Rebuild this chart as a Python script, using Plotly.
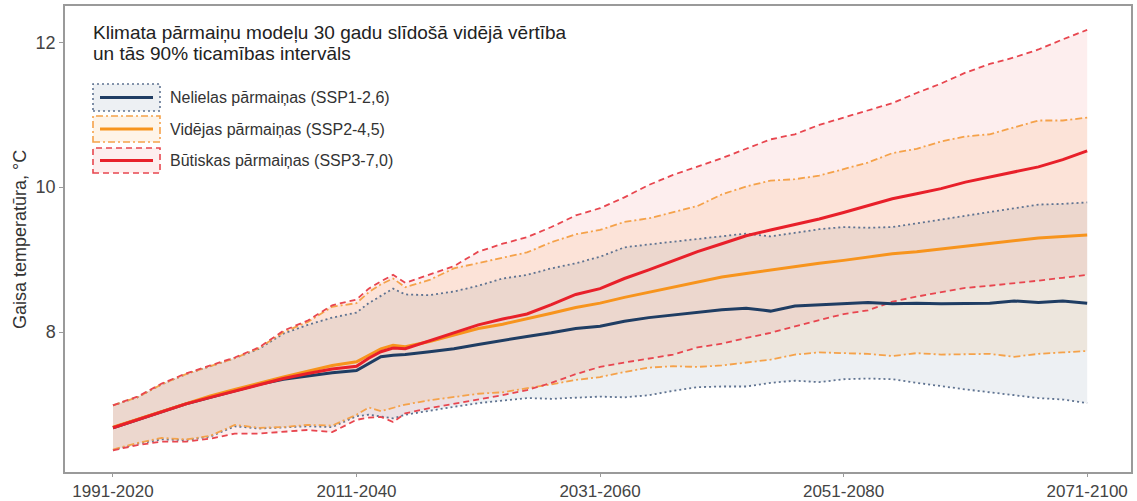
import plotly.graph_objects as go

# ---------------- data ----------------
years = [1991, 1993, 1995, 1997, 1999, 2001, 2003, 2005, 2007, 2009, 2011, 2012, 2013, 2014, 2015,
         2017, 2019, 2021, 2023, 2025, 2027, 2029, 2031, 2033, 2035, 2037, 2039, 2041, 2043, 2045,
         2047, 2049, 2051, 2053, 2055, 2057, 2059, 2061, 2063, 2065, 2067, 2069, 2071]

tick_years = [1991, 2011, 2031, 2051, 2071]
tick_labels = ["1991-2020", "2011-2040", "2031-2060", "2051-2080", "2071-2100"]

ssp126_mean = [6.68, 6.79, 6.90, 7.01, 7.10, 7.19, 7.28, 7.35, 7.40, 7.44, 7.47, 7.56, 7.66, 7.68, 7.69,
               7.73, 7.77, 7.83, 7.89, 7.94, 7.99, 8.05, 8.08, 8.15, 8.20, 8.24, 8.28, 8.31, 8.33, 8.29,
               8.36, 8.38, 8.40, 8.41, 8.39, 8.40, 8.39, 8.40, 8.40, 8.43, 8.41, 8.43, 8.40]
ssp126_low = [6.37, 6.46, 6.52, 6.51, 6.56, 6.70, 6.67, 6.68, 6.70, 6.69, 6.84, 6.86, 6.83, 6.81, 6.86,
              6.92, 6.97, 7.02, 7.06, 7.09, 7.08, 7.09, 7.11, 7.10, 7.13, 7.19, 7.24, 7.25, 7.25, 7.30,
              7.33, 7.31, 7.35, 7.36, 7.35, 7.30, 7.25, 7.21, 7.17, 7.13, 7.09, 7.07, 7.02]
ssp126_high = [6.99, 7.10, 7.28, 7.42, 7.53, 7.64, 7.77, 7.98, 8.10, 8.20, 8.27, 8.40, 8.50, 8.60, 8.52,
               8.51, 8.56, 8.64, 8.74, 8.79, 8.88, 8.95, 9.04, 9.17, 9.21, 9.25, 9.29, 9.33, 9.36, 9.32,
               9.37, 9.42, 9.45, 9.44, 9.45, 9.50, 9.55, 9.60, 9.66, 9.70, 9.76, 9.77, 9.79]

ssp245_mean = [6.69, 6.80, 6.91, 7.02, 7.12, 7.21, 7.30, 7.38, 7.46, 7.54, 7.59, 7.68, 7.77, 7.82, 7.80,
               7.87, 7.96, 8.05, 8.11, 8.18, 8.26, 8.34, 8.40, 8.48, 8.55, 8.61, 8.69, 8.76, 8.81, 8.86,
               8.91, 8.95, 8.99, 9.04, 9.08, 9.11, 9.15, 9.19, 9.23, 9.26, 9.30, 9.32, 9.34]
ssp245_low = [6.38, 6.47, 6.54, 6.52, 6.57, 6.72, 6.68, 6.69, 6.72, 6.71, 6.86, 6.96, 6.91, 6.95, 7.00,
              7.06, 7.10, 7.15, 7.17, 7.22, 7.28, 7.34, 7.38, 7.45, 7.51, 7.53, 7.52, 7.54, 7.58, 7.62,
              7.69, 7.72, 7.71, 7.70, 7.67, 7.71, 7.69, 7.70, 7.70, 7.66, 7.70, 7.72, 7.74]
ssp245_high = [6.99, 7.10, 7.28, 7.42, 7.53, 7.64, 7.78, 8.00, 8.14, 8.35, 8.40, 8.55, 8.66, 8.74, 8.62,
               8.72, 8.88, 8.95, 9.02, 9.10, 9.24, 9.35, 9.41, 9.52, 9.57, 9.65, 9.74, 9.90, 10.01, 10.09,
               10.11, 10.16, 10.25, 10.34, 10.47, 10.53, 10.63, 10.70, 10.73, 10.83, 10.92, 10.92, 10.96]

ssp370_mean = [6.68, 6.79, 6.90, 7.01, 7.10, 7.19, 7.28, 7.36, 7.43, 7.49, 7.53, 7.64, 7.73, 7.78, 7.77,
               7.88, 7.98, 8.10, 8.18, 8.25, 8.38, 8.52, 8.60, 8.74, 8.86, 8.99, 9.11, 9.22, 9.33, 9.41,
               9.48, 9.56, 9.65, 9.74, 9.84, 9.91, 9.98, 10.07, 10.14, 10.20, 10.28, 10.38, 10.50]
ssp370_low = [6.37, 6.44, 6.49, 6.49, 6.53, 6.60, 6.60, 6.62, 6.65, 6.62, 6.79, 6.82, 6.83, 6.76, 6.88,
              6.95, 7.01, 7.06, 7.13, 7.20, 7.30, 7.42, 7.52, 7.58, 7.63, 7.69, 7.79, 7.84, 7.92, 7.99,
              8.08, 8.17, 8.25, 8.30, 8.42, 8.49, 8.55, 8.61, 8.64, 8.67, 8.71, 8.75, 8.79]
ssp370_high = [6.99, 7.11, 7.29, 7.43, 7.54, 7.65, 7.79, 8.02, 8.16, 8.37, 8.45, 8.60, 8.70, 8.79, 8.68,
               8.79, 8.91, 9.11, 9.22, 9.31, 9.45, 9.61, 9.71, 9.86, 10.03, 10.17, 10.28, 10.40, 10.53, 10.66,
               10.73, 10.86, 10.96, 11.06, 11.16, 11.30, 11.43, 11.58, 11.70, 11.79, 11.90, 12.04, 12.17]

legend_names = ["Nelielas pārmaiņas (SSP1-2,6)",
                "Vidējas pārmaiņas (SSP2-4,5)",
                "Būtiskas pārmaiņas (SSP3-7,0)"]
title_lines = ["Klimata pārmaiņu modeļu 30 gadu slīdošā vidējā vērtība",
               "un tās 90% ticamības intervāls"]
y_title = "Gaisa temperatūra, °C"

# ---------------- styles ----------------
FONT = "Liberation Sans, Arial, sans-serif"
scen = [
    dict(mean=ssp126_mean, low=ssp126_low, high=ssp126_high,
         line="#1f3d63", bound="#5f7391", dash="2px,3px", fill="rgba(31,61,99,0.08)"),
    dict(mean=ssp245_mean, low=ssp245_low, high=ssp245_high,
         line="#f7941d", bound="#f5a24a", dash="7px,3px,2px,3px", fill="rgba(247,148,29,0.10)"),
    dict(mean=ssp370_mean, low=ssp370_low, high=ssp370_high,
         line="#e8202a", bound="#e8464f", dash="6px,4px", fill="rgba(232,32,42,0.08)"),
]

W, H = 1137, 501
ML, MR, MT, MB = 65, 6, 6, 29


def px(x):
    return (x - ML) / (W - ML - MR)


def py(y):
    return (H - MB - y) / (H - MT - MB)


fig = go.Figure()

# bands (fills only)
for s in scen:
    fig.add_trace(go.Scatter(x=years, y=s["low"], mode="lines", line=dict(width=0),
                             hoverinfo="skip", showlegend=False))
    fig.add_trace(go.Scatter(x=years, y=s["high"], mode="lines", line=dict(width=0),
                             fill="tonexty", fillcolor=s["fill"], hoverinfo="skip", showlegend=False))

# bound lines
for s in scen:
    for arr in (s["low"], s["high"]):
        fig.add_trace(go.Scatter(x=years, y=arr, mode="lines",
                                 line=dict(color=s["bound"], width=1.8, dash=s["dash"]),
                                 showlegend=False))

# mean lines
for s in scen:
    fig.add_trace(go.Scatter(x=years, y=s["mean"], mode="lines",
                             line=dict(color=s["line"], width=3), showlegend=False))

# ---------------- custom legend ----------------
shapes = []
annotations = []
box_rows = [(84, 111), (116, 142), (148, 173)]
for (y0, y1), s, name in zip(box_rows, scen, legend_names):
    shapes.append(dict(type="rect", xref="paper", yref="paper",
                       x0=px(93), x1=px(160), y0=py(y1), y1=py(y0),
                       fillcolor=s["fill"], line=dict(color=s["bound"], width=1.6, dash=s["dash"])))
    yc = (y0 + y1) / 2
    shapes.append(dict(type="line", xref="paper", yref="paper",
                       x0=px(100), x1=px(153), y0=py(yc), y1=py(yc),
                       line=dict(color=s["line"], width=3)))
    annotations.append(dict(xref="paper", yref="paper", x=px(168), y=py(yc),
                            xanchor="left", yanchor="middle", showarrow=False,
                            text=name, font=dict(family=FONT, size=16, color="#333333")))

for i, line in enumerate(title_lines):
    annotations.append(dict(xref="paper", yref="paper", x=px(91), y=py(33 + 20 * i),
                            xanchor="left", yanchor="middle", showarrow=False, align="left",
                            text=line, font=dict(family=FONT, size=19, color="#222222")))

annotations.append(dict(xref="paper", yref="paper", x=px(20), y=py(240),
                        xanchor="center", yanchor="middle", showarrow=False, textangle=-90,
                        text=y_title, font=dict(family=FONT, size=18, color="#333333")))

fig.update_layout(
    width=W, height=H,
    margin=dict(l=ML, r=MR, t=MT, b=MB, autoexpand=False),
    paper_bgcolor="white", plot_bgcolor="white",
    font=dict(family=FONT, size=18, color="#444444"),
    shapes=shapes, annotations=annotations,
    showlegend=False,
)
fig.update_xaxes(range=[1987.06, 2074.6], tickvals=tick_years, ticktext=tick_labels,
                 showgrid=False, zeroline=False, showline=True, mirror=True, automargin=False,
                 linecolor="#9a9a9a", linewidth=1.5, ticks="outside", ticklen=3,
                 tickcolor="#9a9a9a", tickfont=dict(size=17, color="#444444"))
fig.update_yaxes(range=[6.07, 12.50], tickvals=[8, 10, 12],
                 showgrid=False, zeroline=False, showline=True, mirror=True, automargin=False,
                 linecolor="#9a9a9a", linewidth=1.5, ticks="outside", ticklen=4,
                 tickcolor="#9a9a9a", tickfont=dict(size=18, color="#444444"))

fig.write_html("out.html", config={"displayModeBar": False},
               post_script="document.body.style.margin='0px';document.body.style.padding='0px';")
